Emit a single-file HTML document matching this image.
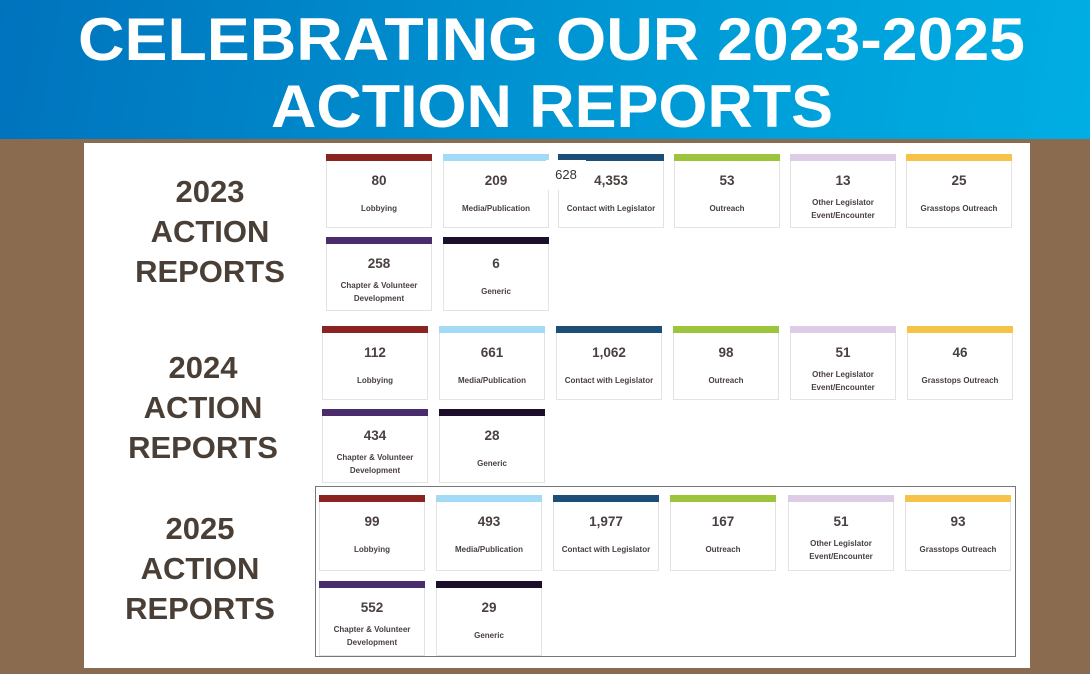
<!DOCTYPE html>
<html><head><style>
body{margin:0;width:1090px;height:674px;overflow:hidden;background:#8a6b4f;font-family:"Liberation Sans",sans-serif;position:relative}
.hdr{position:absolute;left:0;top:0;width:1090px;height:139px;background:linear-gradient(100deg,#0073bd,#009ad6 60%,#00aee3)}
.panel{position:absolute;left:84px;top:143px;width:946px;height:525px;background:#fff}
.card{position:absolute;width:106px;background:#fff;border:1px solid #e3e3e3;border-top:none;box-sizing:border-box;text-align:center;color:#4a4040}
.card .s{height:7px;margin:0 -1px}
.card .n{font-weight:bold;font-size:13.5px;margin-top:12px}
.card .l{font-weight:bold;font-size:8px;line-height:13px;margin-top:8px}
.yl{position:absolute;font-weight:bold;font-size:31px;color:#4a3f36;text-align:center;line-height:40px;width:200px}
.box{position:absolute;left:315px;top:486px;width:701px;height:171px;border:1px solid #777;box-sizing:border-box}
</style></head><body>
<div class="hdr"></div>
<svg style="position:absolute;left:0;top:0" width="1090" height="139">
<text x="78" y="60" textLength="947" lengthAdjust="spacingAndGlyphs" font-family="Liberation Sans" font-weight="bold" font-size="60" fill="#fff">CELEBRATING OUR  2023-2025</text>
<text x="271" y="127" textLength="562" lengthAdjust="spacingAndGlyphs" font-family="Liberation Sans" font-weight="bold" font-size="60" fill="#fff">ACTION REPORTS</text>
</svg>
<div class="panel"></div>
<div class="box"></div>
<div class="yl" style="left:110px;top:172px">2023<br>ACTION<br>REPORTS</div>
<div class="yl" style="left:103px;top:348px">2024<br>ACTION<br>REPORTS</div>
<div class="yl" style="left:100px;top:509px">2025<br>ACTION<br>REPORTS</div>
<div id="c"></div>
<script>
var col=["#8b2420","#a3daf5","#1c4e76","#9cc53c","#dccce6","#f4c347","#4a2c6c","#1c0f2a"];
var lab=["Lobbying","Media/Publication","Contact with Legislator","Outreach","Other Legislator<br>Event/Encounter","Grasstops Outreach","Chapter &amp; Volunteer<br>Development","Generic"];
var rows=[
 {x:[326,443,558,674,790,906],y1:154,h1:74,y2:237,h2:74,v:["80","209","4,353","53","13","25","258","6"]},
 {x:[322,439,556,673,790,907],y1:326,h1:74,y2:409,h2:74,v:["112","661","1,062","98","51","46","434","28"]},
 {x:[319,436,553,670,788,905],y1:495,h1:76,y2:581,h2:75,v:["99","493","1,977","167","51","93","552","29"]}];
var h="";
rows.forEach(function(r){for(var i=0;i<8;i++){var x=i<6?r.x[i]:r.x[i-6],y=i<6?r.y1:r.y2,hh=i<6?r.h1:r.h2;
var two=lab[i].indexOf("<br>")>0;
h+='<div class="card" style="left:'+x+'px;top:'+y+'px;height:'+hh+'px"><div class="s" style="background:'+col[i]+'"></div><div class="n">'+r.v[i]+'</div><div class="l" style="margin-top:'+(two?8:14)+'px">'+lab[i]+'</div></div>';}});
h+='<div style="position:absolute;left:546px;top:160px;width:40px;height:30px;background:#fff;font-size:13px;color:#333;text-align:center;line-height:30px">628</div>';
document.getElementById("c").innerHTML=h;
</script>
</body></html>
